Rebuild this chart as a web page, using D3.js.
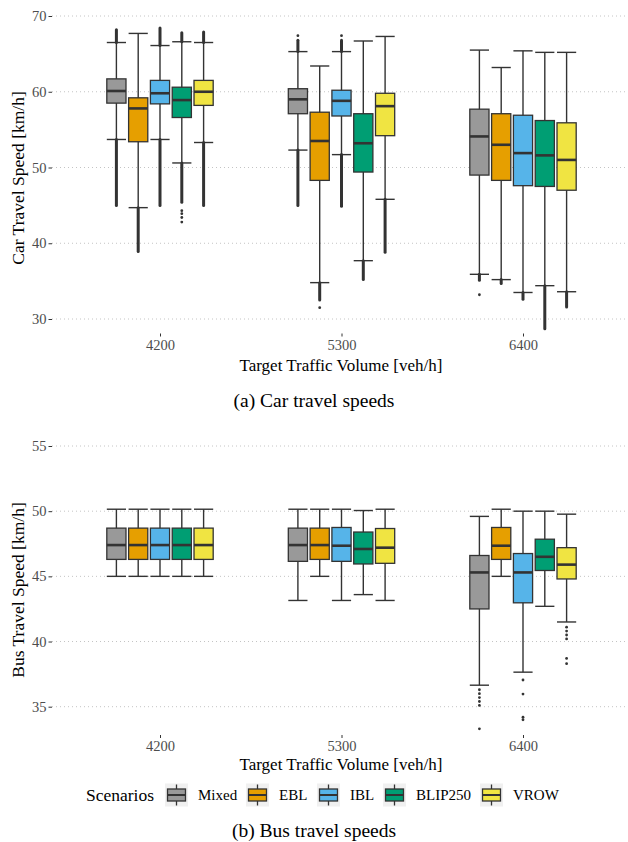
<!DOCTYPE html>
<html>
<head>
<meta charset="utf-8">
<script src="https://cdn.jsdelivr.net/npm/d3@7"></script>
<style>
  body { margin: 0; background: #ffffff; }
</style>
</head>
<body>
<svg id="chart" width="628" height="842"></svg>
<script>
// Categories
var volumes = ["4200", "5300", "6400"];
var scenarios = ["Mixed", "EBL", "IBL", "BLIP250", "VROW"];
var scenarioFill = ["#999999", "#E69F00", "#56B4E9", "#009E73", "#F0E442"];

// Car travel speeds: [volume, scenario, lower whisker, q1, median, q3, upper whisker]
var carBoxes = [
  ["4200", "Mixed", 53.7, 58.5, 60.1, 61.7, 66.5],
  ["4200", "EBL", 44.7, 53.4, 57.8, 59.2, 67.7],
  ["4200", "IBL", 53.7, 58.4, 59.8, 61.5, 66.1],
  ["4200", "BLIP250", 50.6, 56.6, 58.9, 60.6, 66.6],
  ["4200", "VROW", 53.3, 58.2, 60.0, 61.5, 66.5],
  ["5300", "Mixed", 52.3, 57.1, 59.0, 60.4, 65.3],
  ["5300", "EBL", 34.8, 48.3, 53.5, 57.3, 63.4],
  ["5300", "IBL", 51.7, 56.8, 58.8, 60.2, 65.3],
  ["5300", "BLIP250", 37.7, 49.4, 53.2, 57.1, 66.7],
  ["5300", "VROW", 45.8, 54.2, 58.1, 59.8, 67.3],
  ["6400", "Mixed", 35.9, 49.0, 54.1, 57.7, 65.5],
  ["6400", "EBL", 35.2, 48.3, 53.0, 57.1, 63.2],
  ["6400", "IBL", 33.5, 47.6, 51.9, 56.9, 65.4],
  ["6400", "BLIP250", 34.4, 47.5, 51.6, 56.2, 65.2],
  ["6400", "VROW", 33.6, 47.0, 51.0, 55.9, 65.2]
];
// Car outliers so dense they merge into a run: [volume, scenario, from, to]
var carOutlierRuns = [
  ["4200", "Mixed", 66.5, 68.2], ["4200", "Mixed", 45.0, 53.7],
  ["4200", "EBL", 38.9, 44.7],
  ["4200", "IBL", 66.1, 68.4], ["4200", "IBL", 45.0, 53.7],
  ["4200", "BLIP250", 66.6, 67.8], ["4200", "BLIP250", 45.4, 50.6],
  ["4200", "VROW", 66.5, 67.9], ["4200", "VROW", 45.0, 53.3],
  ["5300", "Mixed", 65.3, 66.8], ["5300", "Mixed", 45.0, 52.3],
  ["5300", "EBL", 32.5, 34.8],
  ["5300", "IBL", 65.3, 66.8], ["5300", "IBL", 44.9, 51.7],
  ["5300", "BLIP250", 35.2, 37.7],
  ["5300", "VROW", 38.8, 45.8],
  ["6400", "Mixed", 35.1, 35.9],
  ["6400", "EBL", 34.7, 35.2],
  ["6400", "IBL", 32.6, 33.5],
  ["6400", "BLIP250", 28.7, 34.4],
  ["6400", "VROW", 31.6, 33.6]
];
// Single car outliers: [volume, scenario, value]
var carOutliers = [
  ["4200", "BLIP250", 44.3], ["4200", "BLIP250", 43.9], ["4200", "BLIP250", 43.4], ["4200", "BLIP250", 42.8],
  ["5300", "Mixed", 67.4], ["5300", "IBL", 67.4], ["5300", "EBL", 31.5],
  ["6400", "Mixed", 33.2]
];
var carTicks = [30, 40, 50, 60, 70];

// Bus travel speeds
var busBoxes = [
  ["4200", "Mixed", 45.0, 46.3, 47.4, 48.7, 50.15],
  ["4200", "EBL", 45.0, 46.3, 47.4, 48.7, 50.15],
  ["4200", "IBL", 45.0, 46.3, 47.4, 48.7, 50.15],
  ["4200", "BLIP250", 45.0, 46.3, 47.4, 48.7, 50.15],
  ["4200", "VROW", 45.0, 46.3, 47.4, 48.7, 50.15],
  ["5300", "Mixed", 43.15, 46.15, 47.4, 48.7, 50.15],
  ["5300", "EBL", 45.0, 46.3, 47.4, 48.7, 50.15],
  ["5300", "IBL", 43.15, 46.15, 47.35, 48.75, 50.15],
  ["5300", "BLIP250", 43.6, 45.95, 47.1, 48.4, 50.05],
  ["5300", "VROW", 43.15, 46.0, 47.2, 48.67, 50.15],
  ["6400", "Mixed", 36.65, 42.5, 45.3, 46.6, 49.6],
  ["6400", "EBL", 45.0, 46.3, 47.35, 48.75, 50.15],
  ["6400", "IBL", 37.65, 42.97, 45.3, 46.75, 50.0],
  ["6400", "BLIP250", 42.7, 45.45, 46.5, 47.85, 50.0],
  ["6400", "VROW", 41.5, 44.8, 45.9, 47.2, 49.77]
];
var busOutlierRuns = [];
var busOutliers = [
  ["6400", "Mixed", 36.3], ["6400", "Mixed", 36.0], ["6400", "Mixed", 35.7],
  ["6400", "Mixed", 35.4], ["6400", "Mixed", 35.1], ["6400", "Mixed", 33.3],
  ["6400", "IBL", 37.05], ["6400", "IBL", 35.97], ["6400", "IBL", 34.2], ["6400", "IBL", 34.0],
  ["6400", "VROW", 41.1], ["6400", "VROW", 40.8], ["6400", "VROW", 40.5],
  ["6400", "VROW", 40.2], ["6400", "VROW", 38.7], ["6400", "VROW", 38.3]
];
var busTicks = [35, 40, 45, 50, 55];

(function (d3) {
  "use strict";

  var svg = d3.select("#chart"),
      serif = "'Liberation Serif'",
      left = 52,
      right = 626,
      ink = "#333333",
      fill = d3.scaleOrdinal().domain(scenarios).range(scenarioFill),
      x = d3.scalePoint().domain(volumes).range([160, 523]),
      dodge = d3.scaleBand().domain(scenarios).range([-54.5, 54.5]),
      boxW = dodge.bandwidth() * 0.88;

  function cx(d) {
    return x(d[0]) + dodge(d[1]) + dodge.bandwidth() / 2;
  }

  // Plain text helper, always serif
  function label(parent, sText, iSize) {
    return parent.append("text")
      .style("font-family", serif).style("font-size", iSize + "px")
      .attr("fill", "#000").attr("dy", "0.35em")
      .text(sText);
  }

  /**
   *  drawPanel
   *      One boxplot panel with grid, axes, titles
   */
  function drawPanel(o) {
    var y = d3.scaleLinear().domain(o.domain).range(o.range),
        g = svg.append("g");

    // Dotted horizontal grid
    g.selectAll("line.grid").data(o.ticks).enter().append("line")
      .attr("x1", left).attr("x2", right)
      .attr("y1", function (d) { return y(d); })
      .attr("y2", function (d) { return y(d); })
      .attr("stroke", "#c4c4c4").attr("stroke-width", 1)
      .attr("stroke-dasharray", "1,3");

    // Y axis (ticks and labels only)
    var yAxis = g.append("g")
      .attr("transform", "translate(" + left + ",0)")
      .call(d3.axisLeft(y).tickValues(o.ticks).tickSize(3.5).tickPadding(2));
    yAxis.select(".domain").remove();
    yAxis.selectAll("line").attr("stroke", ink);
    yAxis.selectAll("text").attr("fill", "#4d4d4d")
      .style("font-family", serif).style("font-size", "14.5px");

    // X axis
    var xAxis = g.append("g")
      .attr("transform", "translate(0," + o.bottom + ")")
      .call(d3.axisBottom(x).tickSize(3).tickPadding(3));
    xAxis.select(".domain").remove();
    xAxis.selectAll("line").attr("stroke", ink);
    xAxis.selectAll("text").attr("fill", "#4d4d4d")
      .style("font-family", serif).style("font-size", "14.5px");

    // Whiskers
    g.selectAll("line.whisker").data(o.boxes).enter().append("line")
      .attr("x1", cx).attr("x2", cx)
      .attr("y1", function (d) { return y(d[2]); })
      .attr("y2", function (d) { return y(d[6]); })
      .attr("stroke", ink).attr("stroke-width", 1.4);

    // Whisker caps
    [2, 6].forEach(function (k) {
      g.selectAll("line.cap" + k).data(o.boxes).enter().append("line")
        .attr("x1", function (d) { return cx(d) - boxW / 2; })
        .attr("x2", function (d) { return cx(d) + boxW / 2; })
        .attr("y1", function (d) { return y(d[k]); })
        .attr("y2", function (d) { return y(d[k]); })
        .attr("stroke", ink).attr("stroke-width", 1.4);
    });

    // Dense outlier runs
    g.selectAll("line.run").data(o.runs).enter().append("line")
      .attr("x1", cx).attr("x2", cx)
      .attr("y1", function (d) { return y(d[2]); })
      .attr("y2", function (d) { return y(d[3]); })
      .attr("stroke", ink).attr("stroke-width", 3)
      .attr("stroke-linecap", "round");

    // Single outliers
    g.selectAll("circle.out").data(o.outliers).enter().append("circle")
      .attr("cx", cx)
      .attr("cy", function (d) { return y(d[2]); })
      .attr("r", 1.4)
      .attr("fill", ink);

    // Boxes
    g.selectAll("rect.box").data(o.boxes).enter().append("rect")
      .attr("x", function (d) { return cx(d) - boxW / 2; })
      .attr("y", function (d) { return y(d[5]); })
      .attr("width", boxW)
      .attr("height", function (d) { return y(d[3]) - y(d[5]); })
      .attr("fill", function (d) { return fill(d[1]); })
      .attr("stroke", ink).attr("stroke-width", 1.3);

    // Medians
    g.selectAll("line.median").data(o.boxes).enter().append("line")
      .attr("x1", function (d) { return cx(d) - boxW / 2; })
      .attr("x2", function (d) { return cx(d) + boxW / 2; })
      .attr("y1", function (d) { return y(d[4]); })
      .attr("y2", function (d) { return y(d[4]); })
      .attr("stroke", ink).attr("stroke-width", 2.6);

    // Titles
    label(g, o.yTitle, 17.5)
      .attr("transform", "translate(" + o.yTitleX + "," + o.yTitleY + ") rotate(-90)")
      .attr("text-anchor", "middle");
    label(g, "Target Traffic Volume [veh/h]", 17)
      .attr("x", 341).attr("y", o.xTitleY)
      .attr("text-anchor", "middle");
    label(g, o.caption, 19.5)
      .attr("x", 314).attr("y", o.captionY)
      .attr("text-anchor", "middle");
  }

  drawPanel({
    domain: [30, 70], range: [319, 16], ticks: carTicks, bottom: 333.5,
    boxes: carBoxes, runs: carOutlierRuns, outliers: carOutliers,
    yTitle: "Car Travel Speed [km/h]", yTitleX: 18, yTitleY: 178,
    xTitleY: 365.5, caption: "(a) Car travel speeds", captionY: 400
  });

  drawPanel({
    domain: [35, 55], range: [706.7, 446], ticks: busTicks, bottom: 735,
    boxes: busBoxes, runs: busOutlierRuns, outliers: busOutliers,
    yTitle: "Bus Travel Speed [km/h]", yTitleX: 18, yTitleY: 590,
    xTitleY: 764, caption: "(b) Bus travel speeds", captionY: 830
  });

  // Legend
  var legendX = [165, 246, 317, 383, 480],
      legendY = 795,
      lg = svg.append("g");

  label(lg, "Scenarios", 17.5).attr("x", 86).attr("y", legendY);

  scenarios.forEach(function (s, i) {
    var k = lg.append("g").attr("transform", "translate(" + legendX[i] + "," + (legendY - 11.5) + ")");
    k.append("rect").attr("width", 23).attr("height", 23).attr("fill", "#f0f0f0");
    k.append("line").attr("x1", 11.5).attr("x2", 11.5).attr("y1", 1).attr("y2", 22)
      .attr("stroke", ink).attr("stroke-width", 1.3);
    k.append("rect").attr("x", 2.5).attr("y", 5.5).attr("width", 18).attr("height", 12)
      .attr("fill", fill(s)).attr("stroke", ink).attr("stroke-width", 1.3);
    k.append("line").attr("x1", 2.5).attr("x2", 20.5).attr("y1", 11.5).attr("y2", 11.5)
      .attr("stroke", ink).attr("stroke-width", 2);
    label(lg, s, 15).attr("x", legendX[i] + 33).attr("y", legendY);
  });
}(d3));
</script>
</body>
</html>
